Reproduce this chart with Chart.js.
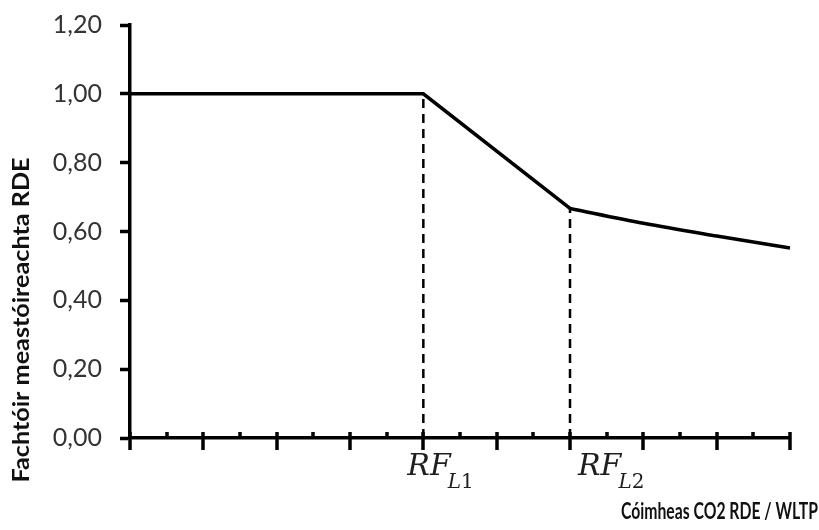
<!DOCTYPE html>
<html>
<head>
<meta charset="utf-8">
<script src="https://cdn.jsdelivr.net/npm/chart.js@4"></script>
<style>
  html, body { margin: 0; padding: 0; background: #fff; }
  #wrap { width: 819px; height: 530px; position: relative; }
</style>
</head>
<body>
<div id="wrap"><canvas id="c" width="819" height="530"></canvas></div>
<script>
// ---- data ----
const lineX = [0, 4, 6];              // flat part and linear drop
const lineY = [1.00, 1.00, 0.667];
const tailX = [6, 7, 8, 9];           // slightly curved tail
const tailY = [0.667, 0.624, 0.587, 0.552];
const markerX = [4, 6];               // RF_L1, RF_L2 positions
const markerY = [1.00, 0.667];
const markerSubLetter = ['L', 'L'];
const markerSubDigit = ['1', '2'];
const markerBase = 'RF';
const xMin = 0, xMax = 9, xMinorStep = 0.5;
const yMin = 0, yMax = 1.2, yStep = 0.2;
const xTitle = 'Cóimheas CO2 RDE / WLTP';
const yTitle = 'Fachtóir meastóireachta RDE';

const toPts = (xs, ys) => xs.map((x, i) => ({ x, y: ys[i] }));

const datasets = [];
markerX.forEach((mx, i) => {
  datasets.push({
    data: [{ x: mx, y: yMin }, { x: mx, y: markerY[i] }],
    borderColor: '#000', borderWidth: 2.5, borderDash: [9, 6],
    pointRadius: 0, fill: false, clip: false, order: 2
  });
});
datasets.push({
  data: toPts(lineX, lineY), borderColor: '#000', borderWidth: 3.5,
  pointRadius: 0, tension: 0, fill: false, clip: false, order: 1,
  borderJoinStyle: 'miter'
});
datasets.push({
  data: toPts(tailX, tailY), borderColor: '#000', borderWidth: 3.5,
  pointRadius: 0, tension: 0.4, cubicInterpolationMode: 'monotone',
  fill: false, clip: false, order: 1
});

function fitText(ctx, text, size, targetW, x, y, align) {
  ctx.font = 'bold ' + size + 'px Lato';
  const w = ctx.measureText(text).width;
  const sx = targetW / w;
  ctx.save();
  ctx.translate(x, y);
  ctx.scale(sx, 1);
  ctx.textAlign = align;
  ctx.textBaseline = 'middle';
  ctx.fillText(text, 0, 0);
  ctx.restore();
}

const extras = {
  id: 'extras',
  afterDraw(chart) {
    const ctx = chart.ctx;
    const xs = chart.scales.x, ys = chart.scales.y;
    const y0 = ys.getPixelForValue(yMin);
    ctx.save();
    // x-axis ticks: major at integers (crossing), minor at halves (above)
    ctx.strokeStyle = '#000';
    ctx.lineWidth = 3.5;
    for (let v = xMin; v <= xMax + 1e-9; v += xMinorStep) {
      const px = Math.round(xs.getPixelForValue(v));
      const major = Math.abs(v - Math.round(v)) < 1e-9;
      ctx.beginPath();
      ctx.moveTo(px, y0 - 6);
      ctx.lineTo(px, major ? y0 + 12 : y0);
      ctx.stroke();
    }
    // RF labels
    const offs = [-16, 8];
    markerX.forEach((mx, i) => {
      const px = xs.getPixelForValue(mx) + offs[i];
      ctx.fillStyle = '#1e1e1e';
      ctx.textBaseline = 'alphabetic';
      ctx.textAlign = 'left';
      ctx.font = 'italic 30px "DejaVu Serif"';
      ctx.fillText(markerBase, px, y0 + 37);
      let w = ctx.measureText(markerBase).width;
      ctx.font = 'italic 20px "DejaVu Serif"';
      ctx.fillText(markerSubLetter[i], px + w - 3, y0 + 50);
      const w2 = ctx.measureText(markerSubLetter[i]).width;
      ctx.font = '20px "DejaVu Serif"';
      ctx.fillText(markerSubDigit[i], px + w - 3 + w2, y0 + 50);
    });
    // titles
    ctx.fillStyle = '#111';
    fitText(ctx, xTitle, 23, 197, 818, 512, 'right');
    ctx.save();
    ctx.translate(22, 320);
    ctx.rotate(-Math.PI / 2);
    fitText(ctx, yTitle, 23, 325, 0, 0, 'center');
    ctx.restore();
    ctx.restore();
  }
};

new Chart(document.getElementById('c'), {
  type: 'line',
  data: { datasets },
  options: {
    responsive: false,
    animation: false,
    events: [],
    layout: { padding: { left: 0, right: 29, top: 25, bottom: 0 } },
    plugins: { legend: { display: false }, tooltip: { enabled: false } },
    scales: {
      x: {
        type: 'linear', min: xMin, max: xMax,
        grid: { display: false },
        ticks: { display: false },
        border: { display: true, color: '#000', width: 3.5 },
        afterFit(s) { s.height = 92; s.paddingLeft = 0; s.paddingRight = 0; }
      },
      y: {
        type: 'linear', min: yMin, max: yMax,
        grid: { drawOnChartArea: false, drawTicks: true, tickLength: 10, tickWidth: 3.5, tickColor: '#000', color: '#000' },
        border: { display: true, color: '#000', width: 3.5 },
        ticks: {
          stepSize: yStep, padding: 18, color: '#333',
          font: { family: 'Lato', size: 25 },
          callback: v => v.toFixed(2).replace('.', ',')
        },
        afterFit(s) { s.width = 130; s.paddingTop = 0; s.paddingBottom = 0; }
      }
    }
  },
  plugins: [extras]
});
</script>
</body>
</html>
